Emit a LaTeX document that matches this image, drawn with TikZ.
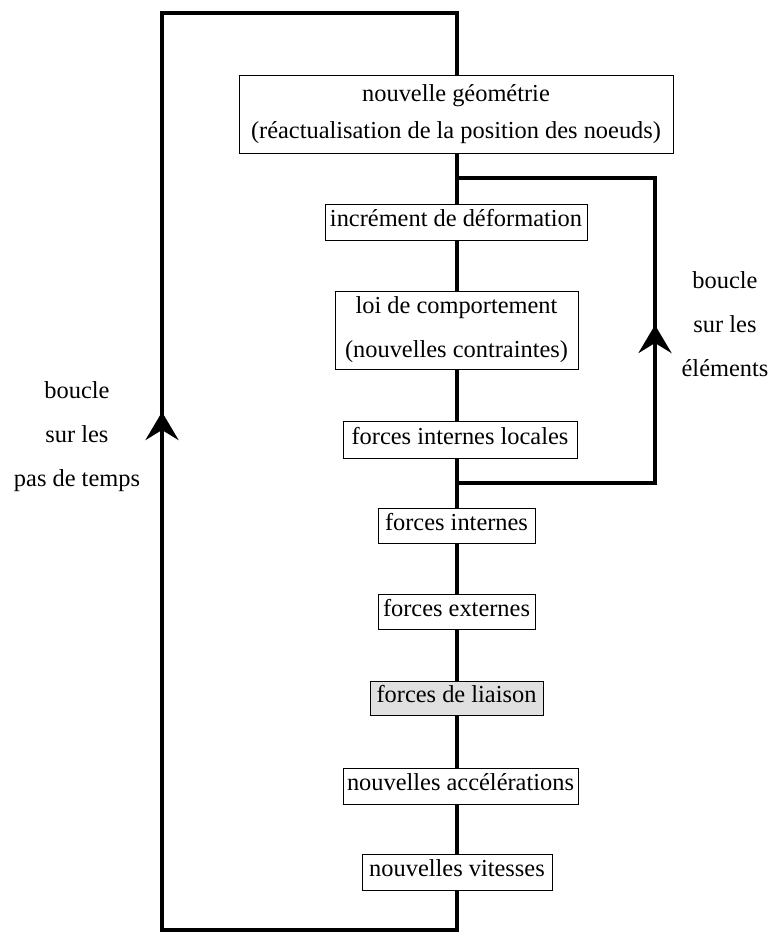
\documentclass[tikz,border=0pt]{standalone}
\usepackage{fontspec}
\setmainfont{Liberation Serif}
\usetikzlibrary{arrows.meta}
\definecolor{boxgray}{HTML}{E0E0E0}
\tikzset{
  thickline/.style={line width=2.1pt, line join=miter, line cap=butt},
  box/.style={draw, line width=0.5pt, fill=white, inner sep=0pt, align=center,
    font=\fontsize{12.2pt}{18.5pt}\selectfont},
  onebox/.style={box, text height=0.7em, text depth=0.22em},
  lbl/.style={align=center, inner sep=0pt, font=\fontsize{12.2pt}{22pt}\selectfont},
  uptip/.style={-{Stealth[length=14pt,width=16.5pt,inset=5pt]}}
}
\begin{document}
\begin{tikzpicture}[x=0.5pt,y=-0.5pt]
\useasboundingbox (0,0) rectangle (770,932);
% loop corners
\coordinate (TL) at (162,13);
\coordinate (TR) at (457,13);
\coordinate (BL) at (162,930);
\coordinate (BR) at (457,930);
\coordinate (LA) at (162,412);
\coordinate (JT) at (457,178);
\coordinate (RT) at (655,178);
\coordinate (RB) at (655,483);
\coordinate (JB) at (457,483);
\coordinate (RA) at (655,325);

% boxes
\node[box, minimum width=217pt, minimum height=39pt] (b1) at (456,114)
  {nouvelle géométrie\\(réactualisation de la position des noeuds)};
\node[onebox, minimum width=131pt, minimum height=18pt] (b2) at (456,222) {incrément de déformation};
\node[box, font=\fontsize{12.2pt}{22pt}\selectfont, minimum width=121.5pt, minimum height=39pt] (b3) at (456.5,330)
  {loi de comportement\\(nouvelles contraintes)};
\node[onebox, minimum width=117pt, minimum height=18.5pt] (b4) at (460,439.5) {forces internes locales};
\node[onebox, minimum width=78.5pt, minimum height=17.5pt] (b5) at (456.5,525.5) {forces internes};
\node[onebox, minimum width=78.5pt, minimum height=17.5pt] (b6) at (456.5,611.5) {forces externes};
\node[onebox, fill=boxgray, minimum width=86.5pt, minimum height=17pt] (b7) at (456.5,698) {forces de liaison};
\node[onebox, minimum width=117.5pt, minimum height=18pt] (b8) at (460.5,786) {nouvelles accélérations};
\node[onebox, minimum width=95pt, minimum height=18pt] (b9) at (457,872) {nouvelles vitesses};

% trunk between the boxes
\draw[thickline] (b1.south -| TR) -- (b2.north -| TR);
\draw[thickline] (b2.south -| TR) -- (b3.north -| TR);
\draw[thickline] (b3.south -| TR) -- (b4.north -| TR);
\draw[thickline] (b4.south -| TR) -- (b5.north -| TR);
\draw[thickline] (b5.south -| TR) -- (b6.north -| TR);
\draw[thickline] (b6.south -| TR) -- (b7.north -| TR);
\draw[thickline] (b7.south -| TR) -- (b8.north -| TR);
\draw[thickline] (b8.south -| TR) -- (b9.north -| TR);

% outer loop (time steps)
\draw[thickline] (b9.south -| TR) -- (BR) -- (BL) -- (TL) -- (TR) -- (b1.north -| TR);
\draw[thickline, uptip] (BL) -- (LA);

% inner loop (elements)
\draw[thickline] (JT) -- (RT) -- (RB) -- (JB);
\draw[thickline, uptip] (RB) -- (RA);

% labels
\node[lbl] (lt) at (77,437) {boucle\\sur les\\pas de temps};
\node[lbl] (le) at (725,324) {boucle\\sur les\\éléments};
\end{tikzpicture}
\end{document}
